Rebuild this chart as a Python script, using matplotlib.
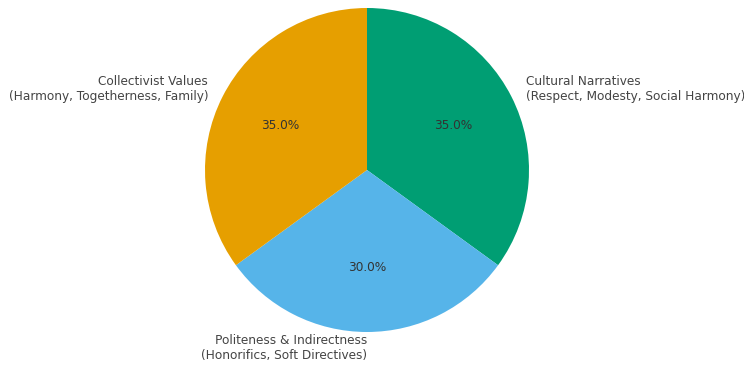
import matplotlib.pyplot as plt

labels = [
    "Cultural Narratives\n(Respect, Modesty, Social Harmony)",
    "Politeness & Indirectness\n(Honorifics, Soft Directives)",
    "Collectivist Values\n(Harmony, Togetherness, Family)",
]
shares = [35, 30, 35]
colors = ["#009E73", "#56B4E9", "#E69F00"]

fig = plt.figure(figsize=(7.44, 3.65), dpi=100)
ax = fig.add_axes([0, 0, 1, 1])

wedges, texts, autotexts = ax.pie(
    shares, labels=labels, colors=colors, autopct="%1.1f%%",
    startangle=90, counterclock=False,
    textprops={"fontsize": 8.7, "color": "#444444"},
)
for t in autotexts:
    t.set_color("#333333")

# pie centre and radius in pixels
cx, cy, r = 367, 170, 162
ax.set_aspect("auto")
ax.set_xlim(-cx / r, (744 - cx) / r)
ax.set_ylim(-(365 - cy) / r, cy / r)
ax.axis("off")

fig.savefig("out.png", dpi=100)
